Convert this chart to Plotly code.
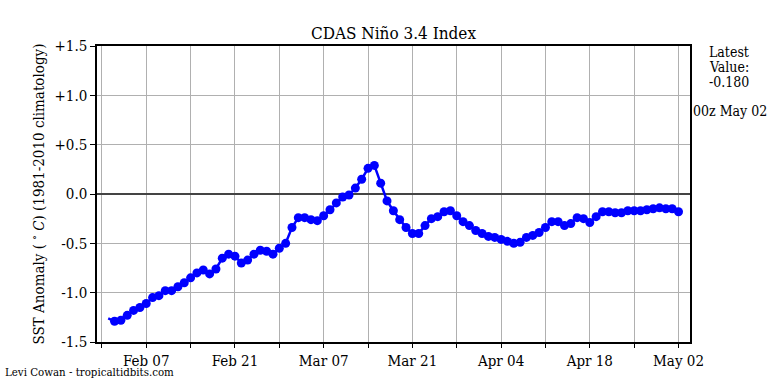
import pandas as pd
import plotly.graph_objects as go

start_date = "2021-02-01"
anomaly = [
    -1.26, -1.29, -1.28, -1.23, -1.18, -1.15, -1.11, -1.05, -1.03, -0.98,
    -0.98, -0.94, -0.90, -0.85, -0.80, -0.77, -0.81, -0.76, -0.65, -0.61,
    -0.63, -0.70, -0.67, -0.61, -0.57, -0.58, -0.61, -0.55, -0.50, -0.34,
    -0.24, -0.24, -0.26, -0.27, -0.22, -0.16, -0.09, -0.03, -0.01, 0.06,
    0.15, 0.26, 0.29, 0.11, -0.07, -0.17, -0.26, -0.34, -0.40, -0.40,
    -0.32, -0.25, -0.23, -0.18, -0.17, -0.22, -0.28, -0.32, -0.37, -0.40,
    -0.43, -0.44, -0.46, -0.48, -0.50, -0.49, -0.44, -0.42, -0.39, -0.34,
    -0.28, -0.28, -0.32, -0.30, -0.24, -0.25, -0.29, -0.23, -0.18, -0.18,
    -0.19, -0.19, -0.17, -0.17, -0.17, -0.16, -0.15, -0.14, -0.15, -0.15,
    -0.18,
]
dates = pd.date_range(start_date, periods=len(anomaly), freq="D")

x_tick_dates = ["2021-02-07", "2021-02-21", "2021-03-07", "2021-03-21",
                "2021-04-04", "2021-04-18", "2021-05-02"]
x_tick_text = ["Feb 07", "Feb 21", "Mar 07", "Mar 21", "Apr 04", "Apr 18", "May 02"]
x_minor_dates = ["2021-01-31", "2021-02-14", "2021-02-28", "2021-03-14",
                 "2021-03-28", "2021-04-11", "2021-04-25"]
y_tick_vals = [-1.5, -1.0, -0.5, 0.0, 0.5, 1.0, 1.5]
y_tick_text = ["-1.5", "-1.0", "-0.5", "0.0", "+0.5", "+1.0", "+1.5"]

latest_lines = ["Latest", "Value:", "-0.180"]
latest_time = "00z May 02"
title = "CDAS Niño 3.4 Index"
credit = "Levi Cowan - tropicaltidbits.com"

SERIF = "DejaVu Serif Condensed, DejaVu Serif, serif"
BLUE = "#0000ff"
GRID = "#b0b0b0"

L, R, T, B = 97, 690, 46, 342
PW, PH = R - L, B - T

fig = go.Figure()
fig.add_trace(go.Scatter(x=dates, y=anomaly, mode="lines",
                         line=dict(color=BLUE, width=2.5), hoverinfo="skip"))
fig.add_trace(go.Scatter(x=dates[1:], y=anomaly[1:], mode="markers",
                         marker=dict(color=BLUE, size=9)))

fig.update_layout(
    width=768, height=384,
    margin=dict(l=L, r=768 - R, t=T, b=384 - B, autoexpand=False),
    paper_bgcolor="white", plot_bgcolor="white",
    showlegend=False,
    font=dict(family=SERIF, size=14, color="black"),
    title=dict(text=title, x=(L + R) / 2 / 768, xanchor="center",
               y=1 - 33 / 384, yanchor="middle",
               font=dict(family=SERIF, size=17, color="black")),
)
fig.update_xaxes(
    type="date", automargin=False,
    range=["2021-01-30 05:30", "2021-05-03 19:30"],
    tickmode="array", tickvals=x_tick_dates, ticktext=x_tick_text,
    ticks="outside", ticklen=4, tickcolor="black", tickwidth=1,
    minor=dict(tickmode="array", tickvals=x_minor_dates, ticks="outside",
               ticklen=4, tickcolor="black", tickwidth=1,
               showgrid=True, gridcolor=GRID, gridwidth=1),
    showgrid=True, gridcolor=GRID, gridwidth=1,
    showline=True, mirror=True, linecolor="black", linewidth=1.5,
    tickfont=dict(family=SERIF, size=15),
)
fig.update_yaxes(
    range=[-1.5, 1.5], automargin=False,
    tickmode="array", tickvals=y_tick_vals, ticktext=y_tick_text,
    ticks="outside", ticklen=5, tickcolor="black", tickwidth=1,
    showgrid=True, gridcolor=GRID, gridwidth=1,
    zeroline=True, zerolinecolor="#444444", zerolinewidth=1.5,
    showline=True, mirror=True, linecolor="black", linewidth=1.5,
    tickfont=dict(family=SERIF, size=15),
    title=dict(text="SST Anomaly ( <sup>∘</sup> <i>C</i>) (1981-2010 climatology)",
               font=dict(family=SERIF, size=15), standoff=6),
)

for i, line in enumerate(latest_lines):
    fig.add_annotation(text=line, xref="paper", yref="paper",
                       x=(729 - L) / PW, y=1 - (52 + 15 * i - T) / PH,
                       xanchor="center", yanchor="middle",
                       showarrow=False, font=dict(family=SERIF, size=14))
fig.add_annotation(text=latest_time, xref="paper", yref="paper",
                   x=(730 - L) / PW, y=1 - (111 - T) / PH,
                   xanchor="center", yanchor="middle",
                   showarrow=False, font=dict(family=SERIF, size=14))
fig.add_annotation(text=credit, xref="paper", yref="paper",
                   x=-(L - 3) / PW, y=-(372 - B) / PH,
                   xanchor="left", yanchor="middle",
                   showarrow=False, font=dict(family=SERIF, size=11.4))

fig.write_html("out.html", config={"displayModeBar": False},
               post_script="document.body.style.margin='0';")
